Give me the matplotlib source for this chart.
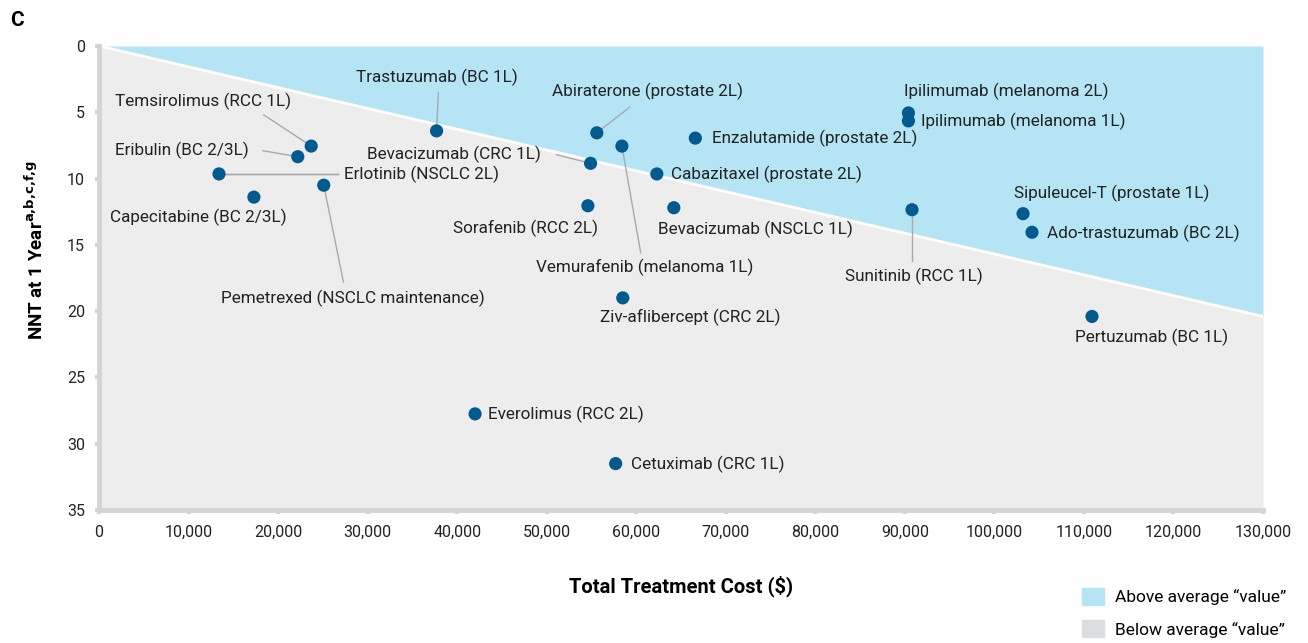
import matplotlib
matplotlib.use("Agg")
import matplotlib.pyplot as plt
from matplotlib.patches import Patch

plt.rcParams['font.family'] = ['Roboto', 'DejaVu Sans']
plt.rcParams['mathtext.fontset'] = 'dejavusans'

# data
drugs = ["Temsirolimus (RCC 1L)", "Eribulin (BC 2/3L)", "Erlotinib (NSCLC 2L)",
         "Capecitabine (BC 2/3L)", "Pemetrexed (NSCLC maintenance)", "Trastuzumab (BC 1L)",
         "Abiraterone (prostate 2L)", "Bevacizumab (CRC 1L)", "Vemurafenib (melanoma 1L)",
         "Enzalutamide (prostate 2L)", "Cabazitaxel (prostate 2L)", "Sorafenib (RCC 2L)",
         "Bevacizumab (NSCLC 1L)", "Ziv-aflibercept (CRC 2L)", "Everolimus (RCC 2L)",
         "Cetuximab (CRC 1L)", "Ipilimumab (melanoma 2L)", "Ipilimumab (melanoma 1L)",
         "Sunitinib (RCC 1L)", "Sipuleucel-T (prostate 1L)", "Ado-trastuzumab (BC 2L)",
         "Pertuzumab (BC 1L)"]
cost = [23700, 22200, 13400, 17300, 25100, 37700,
        55600, 54900, 58400, 66600, 62300, 54600,
        64200, 58500, 42000, 57700, 90400, 90400,
        90800, 103200, 104200, 110900]
nnt = [7.55, 8.35, 9.65, 11.4, 10.5, 6.4,
       6.55, 8.85, 7.55, 6.95, 9.65, 12.05,
       12.2, 19.0, 27.75, 31.5, 5.05, 5.65,
       12.35, 12.65, 14.05, 20.4]

avg_x = [0, 130000]
avg_y = [0, 20.4]

x_ticks = list(range(0, 130001, 10000))
y_ticks = list(range(0, 36, 5))

# label placement: (text x, text y, ha, leader line start or None)
label_pos = {
    "Temsirolimus (RCC 1L)": (1800, 4.15, "left", (18400, 5.2)),
    "Eribulin (BC 2/3L)": (1800, 7.85, "left", (18300, 7.9)),
    "Erlotinib (NSCLC 2L)": (27400, 9.65, "left", (26700, 9.65)),
    "Capecitabine (BC 2/3L)": (1200, 12.95, "left", None),
    "Pemetrexed (NSCLC maintenance)": (28300, 19.0, "center", (27300, 17.8)),
    "Trastuzumab (BC 1L)": (37700, 2.4, "center", (37900, 3.55)),
    "Abiraterone (prostate 2L)": (61300, 3.4, "center", (59300, 4.6)),
    "Bevacizumab (CRC 1L)": (49400, 8.2, "right", (51100, 8.2)),
    "Vemurafenib (melanoma 1L)": (61000, 16.7, "center", (60500, 15.6)),
    "Enzalutamide (prostate 2L)": (68500, 7.0, "left", None),
    "Cabazitaxel (prostate 2L)": (63900, 9.65, "left", None),
    "Sorafenib (RCC 2L)": (47600, 13.75, "center", None),
    "Bevacizumab (NSCLC 1L)": (73300, 13.8, "center", None),
    "Ziv-aflibercept (CRC 2L)": (66000, 20.5, "center", None),
    "Everolimus (RCC 2L)": (43400, 27.75, "left", None),
    "Cetuximab (CRC 1L)": (59400, 31.55, "left", None),
    "Ipilimumab (melanoma 2L)": (101300, 3.4, "center", None),
    "Ipilimumab (melanoma 1L)": (91800, 5.65, "left", None),
    "Sunitinib (RCC 1L)": (91000, 17.35, "center", (90800, 16.2)),
    "Sipuleucel-T (prostate 1L)": (113100, 11.15, "center", None),
    "Ado-trastuzumab (BC 2L)": (105900, 14.1, "left", None),
    "Pertuzumab (BC 1L)": (117500, 22.0, "center", None),
}

blue = "#b5e5f5"
grey = "#ecedec"
dot = "#035a8e"
axis_grey = "#d3d4d6"

fig = plt.figure(figsize=(13.08, 6.43), dpi=100)
ax = fig.add_axes([99 / 1308, 1 - 510 / 643, 1164 / 1308, 464 / 643])

ax.fill_between(avg_x, [0, 0], avg_y, color=blue, lw=0, zorder=0)
ax.fill_between(avg_x, avg_y, [35, 35], color=grey, lw=0, zorder=0)
ax.plot(avg_x, avg_y, color="white", lw=2, zorder=1)

for name, x, y in zip(drugs, cost, nnt):
    tx, ty, ha, lead = label_pos[name]
    if lead is not None:
        ax.plot([lead[0], x], [lead[1], y], color="#a8a9ab", lw=1, zorder=2)
    ax.text(tx, ty, name, ha=ha, va="center", fontsize=12.3, color="#222222", zorder=4)
# erlotinib leader runs from its dot to the label
ax.plot([cost[2], 26700], [nnt[2], nnt[2]], color="#a8a9ab", lw=1, zorder=2)

ax.scatter(cost, nnt, s=90, color=dot, edgecolors="none", zorder=3)

ax.set_xlim(0, 130000)
ax.set_ylim(35, 0)
ax.set_xticks(x_ticks)
ax.set_xticklabels([f"{v:,}" for v in x_ticks])
ax.set_yticks(y_ticks)
for side in ["top", "right"]:
    ax.spines[side].set_visible(False)
for side in ["left", "bottom"]:
    ax.spines[side].set_color(axis_grey)
    ax.spines[side].set_linewidth(3.5)
ax.tick_params(axis="both", direction="out", length=3, width=3, color=axis_grey,
               labelsize=11.5, labelcolor="#222222")
ax.tick_params(axis="x", pad=8)
ax.tick_params(axis="y", pad=7)

ax.set_xlabel("Total Treatment Cost ($)", fontsize=14.5, fontweight="bold")
ax.xaxis.set_label_coords(0.5, -0.142)
ax.set_ylabel(r"NNT at 1 Year$^{\mathbf{a{,}b{,}c{,}f{,}g}}$", fontsize=13.5, fontweight="bold")
ax.yaxis.set_label_coords(-0.045, 0.56)

fig.text(10 / 1308, 1 - 20 / 643, "C", fontsize=15, fontweight="bold", va="center")

handles = [Patch(color=blue, label="Above average \u201cvalue\u201d"),
           Patch(color="#dcdddf", label="Below average \u201cvalue\u201d")]
fig.legend(handles=handles, loc="lower left", bbox_to_anchor=(1072 / 1308, -0.008),
           frameon=False, fontsize=12.5, handlelength=1.27, handleheight=1.15,
           handletextpad=0.6, labelspacing=0.85, borderpad=0.1)

fig.savefig("out.png", dpi=100)
